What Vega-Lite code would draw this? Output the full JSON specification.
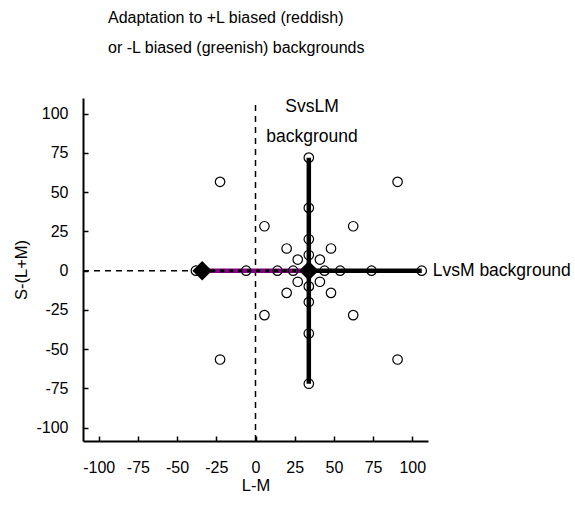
{
  "$schema": "https://vega.github.io/schema/vega-lite/v6.json",
  "width": 345,
  "height": 343,
  "autosize": {"type": "none"},
  "padding": {"left": 83, "top": 98, "right": 147, "bottom": 65},
  "background": "white",
  "config": {
    "font": "Liberation Sans",
    "view": {"stroke": null},
    "axis": {
      "domainColor": "black", "domainWidth": 2,
      "tickColor": "black", "tickWidth": 1.5, "tickSize": -5,
      "labelFontSize": 16, "labelColor": "black", "labelFont": "Liberation Sans",
      "titleFontSize": 16.5, "titleFontWeight": "normal", "titleColor": "black", "titleFont": "Liberation Sans",
      "grid": false
    }
  },
  "title": {
    "text": ["Adaptation to +L biased (reddish)", "or -L biased (greenish) backgrounds"],
    "anchor": "start", "frame": "group", "dx": 25,
    "fontSize": 16, "fontWeight": "normal", "lineHeight": 30, "color": "black",
    "font": "Liberation Sans", "offset": 26, "baseline": "bottom"
  },
  "datasets": {
    "dashed": [
      {"x": 0, "y": -108.5, "x2": 0, "y2": 107.5},
      {"x": -110, "y": 0, "x2": -38, "y2": 0}
    ],
    "purple": [
      {"x": -34, "y": 0, "x2": 34, "y2": 0}
    ],
    "thick": [
      {"x": 34, "y": -72, "x2": 34, "y2": 72},
      {"x": 34, "y": 0, "x2": 106, "y2": 0}
    ],
    "circles": [
      {"x": 44, "y": 0}, {"x": 24, "y": 0}, {"x": 54, "y": 0}, {"x": 14, "y": 0},
      {"x": 74, "y": 0}, {"x": -6, "y": 0}, {"x": 106, "y": 0}, {"x": -38, "y": 0},
      {"x": 34, "y": 10}, {"x": 34, "y": -10}, {"x": 34, "y": 20}, {"x": 34, "y": -20},
      {"x": 34, "y": 40}, {"x": 34, "y": -40}, {"x": 34, "y": 72}, {"x": 34, "y": -72},
      {"x": 41.07, "y": 7.07}, {"x": 26.93, "y": 7.07}, {"x": 41.07, "y": -7.07}, {"x": 26.93, "y": -7.07},
      {"x": 48.14, "y": 14.14}, {"x": 19.86, "y": 14.14}, {"x": 48.14, "y": -14.14}, {"x": 19.86, "y": -14.14},
      {"x": 62.3, "y": 28.3}, {"x": 5.7, "y": 28.3}, {"x": 62.3, "y": -28.3}, {"x": 5.7, "y": -28.3},
      {"x": 90.6, "y": 56.6}, {"x": -22.6, "y": 56.6}, {"x": 90.6, "y": -56.6}, {"x": -22.6, "y": -56.6}
    ],
    "diamonds": [
      {"x": -34, "y": 0}, {"x": 34, "y": 0}
    ],
    "labels": [
      {"x": 36, "y": 104.5, "label": "SvsLM"},
      {"x": 36, "y": 85, "label": "background"}
    ],
    "labels2": [
      {"x": 113, "y": 0, "label": "LvsM background"}
    ]
  },
  "encoding": {
    "x": {
      "field": "x", "type": "quantitative", "title": "L-M",
      "scale": {"domain": [-110, 110], "nice": false, "zero": false},
      "axis": {"values": [-100, -75, -50, -25, 0, 25, 50, 75, 100], "labelExpr": "'' + datum.value", "labelPadding": 23, "titlePadding": 2}
    },
    "y": {
      "field": "y", "type": "quantitative", "title": "S-(L+M)",
      "scale": {"domain": [-108.5, 110], "nice": false, "zero": false},
      "axis": {"values": [-100, -75, -50, -25, 0, 25, 50, 75, 100], "labelExpr": "'' + datum.value", "labelPadding": 20, "titlePadding": 6}
    }
  },
  "layer": [
    {
      "data": {"name": "dashed"},
      "mark": {"type": "rule", "color": "black", "strokeWidth": 1.5, "strokeDash": [6, 5]},
      "encoding": {"x2": {"field": "x2"}, "y2": {"field": "y2"}}
    },
    {
      "data": {"name": "purple"},
      "mark": {"type": "rule", "color": "#800080", "strokeWidth": 4.5},
      "encoding": {"x2": {"field": "x2"}, "y2": {"field": "y2"}}
    },
    {
      "data": {"name": "purple"},
      "mark": {"type": "rule", "color": "black", "strokeWidth": 3, "strokeDash": [4, 5]},
      "encoding": {"x2": {"field": "x2"}, "y2": {"field": "y2"}}
    },
    {
      "data": {"name": "thick"},
      "mark": {"type": "rule", "color": "black", "strokeWidth": 4.5},
      "encoding": {"x2": {"field": "x2"}, "y2": {"field": "y2"}}
    },
    {
      "data": {"name": "circles"},
      "mark": {"type": "point", "shape": "circle", "filled": false, "stroke": "black", "strokeWidth": 1.2, "size": 90, "opacity": 1}
    },
    {
      "data": {"name": "diamonds"},
      "mark": {"type": "point", "shape": "diamond", "filled": true, "color": "black", "size": 380, "opacity": 1}
    },
    {
      "data": {"name": "labels"},
      "mark": {"type": "text", "fontSize": 17.5, "color": "black", "align": "center", "baseline": "middle", "font": "Liberation Sans"},
      "encoding": {"text": {"field": "label"}}
    },
    {
      "data": {"name": "labels2"},
      "mark": {"type": "text", "fontSize": 17.5, "color": "black", "align": "left", "baseline": "middle", "font": "Liberation Sans"},
      "encoding": {"text": {"field": "label"}}
    }
  ]
}
